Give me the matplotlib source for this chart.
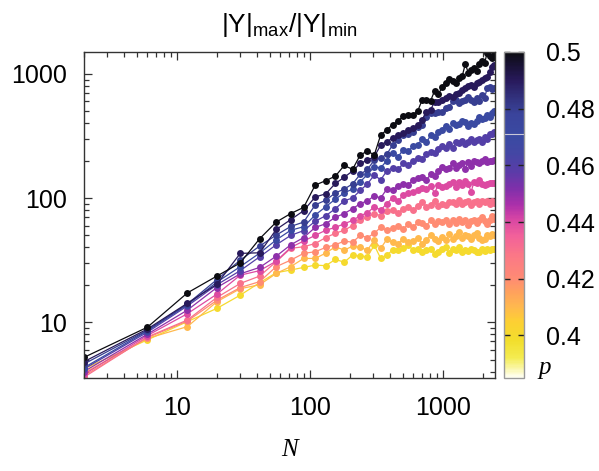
import matplotlib
matplotlib.use("Agg")
import matplotlib.pyplot as plt
import numpy as np
from matplotlib.colors import LinearSegmentedColormap, Normalize
from matplotlib.ticker import FixedLocator, NullFormatter, LogLocator

plt.rcParams['font.family'] = ['Liberation Sans', 'DejaVu Sans']
plt.rcParams['mathtext.fontset'] = 'custom'
plt.rcParams['mathtext.rm'] = 'Liberation Sans'

N = [2, 6, 12, 20, 30, 42, 56, 72, 90, 110, 132, 156, 182, 210, 240, 272, 306, 342,
     380, 420, 462, 506, 552, 600, 650, 702, 756, 812, 870, 930, 992, 1056, 1122,
     1190, 1260, 1332, 1406, 1482, 1560, 1640, 1722, 1806, 1892, 1980, 2070, 2162,
     2256, 2352, 2450]

p_values = [0.40, 0.41, 0.42, 0.43, 0.44, 0.45, 0.46, 0.47, 0.48, 0.49, 0.50]

y_p40 = [4.2, 7.2, 10.1, 12.9, 16.5, 20.8, 25, 26.3, 27.6, 28.8, 28.5, 32, 30.4, 34.7, 34, 33.7,
         41.7, 32.6, 34.7, 38, 38, 39.3, 41.7, 38, 38.5, 36.5, 38, 39, 35.5, 37, 38.6, 40, 36,
         39, 38, 40.5, 37, 38, 37.5, 39, 38, 36.5, 37, 38.5, 37.5, 39, 38, 38.5, 39]
y_p41 = [3.9, 7.4, 9.2, 14.6, 18.6, 20, 24.7, 28, 32.6, 32.6, 36, 40.5, 38, 41, 40, 38, 45.9,
         39.3, 46.4, 44, 43, 47, 44, 45, 48, 43, 46, 50, 47, 45, 48.8, 46, 51, 47, 49, 53, 48,
         50, 49, 47, 50, 52, 48, 46, 47, 50, 49, 51, 50]
y_p42 = [3.7, 7.5, 10.2, 15, 19, 21.2, 28, 31.6, 35.8, 36.9, 40, 42, 45, 44, 50, 48, 52, 58,
         55, 57, 60, 56, 62, 58, 64, 63, 60, 66, 62, 65, 64, 67, 62, 66, 63, 68, 64, 66, 61,
         65, 67, 63, 66, 70, 65, 62, 66, 72, 68]
y_p43 = [3.6, 7.6, 10.4, 15.8, 20.5, 23.5, 30.7, 39.3, 40.5, 43, 48, 52, 55, 60, 66, 70, 75,
         72, 78, 80, 76, 82, 85, 80, 86, 93, 85, 88, 95, 87, 90, 88, 92, 93, 90, 96, 89, 92,
         95, 88, 92, 94, 90, 95, 92, 94, 90, 95, 91]
y_p44 = [3.8, 7.8, 11.7, 16.8, 23.9, 26, 31, 40, 45, 50, 55, 58, 62, 66, 72, 76, 85, 80, 90,
         100, 95, 105, 110, 112, 115, 120, 118, 125, 110, 128, 123, 125, 130, 135, 122, 135,
         128, 138, 130, 112, 135, 133, 140, 130, 128, 130, 132, 131, 131]
y_p45 = [4.0, 8.0, 12.5, 19, 24.5, 27.6, 34, 42, 48, 58, 62, 70, 75, 82, 90, 95, 104, 100,
         118, 115, 125, 130, 128, 140, 145, 149, 140, 155, 150, 165, 179, 170, 175, 190, 175,
         185, 190, 172, 195, 180, 200, 195, 190, 200, 205, 195, 198, 200, 202]
y_p46 = [4.2, 8.3, 13.5, 20, 26, 33.6, 42, 50, 54.6, 65, 72, 82, 95, 100, 115, 130, 153, 140,
         165, 175, 170, 190, 185, 200, 209, 205, 225, 235, 230, 250, 262, 255, 270, 251, 280,
         275, 290, 270, 285, 300, 280, 295, 300, 285, 310, 300, 330, 326, 340]
y_p47 = [4.3, 8.5, 13.8, 21, 28, 36, 46, 55, 58.7, 73, 85, 98, 110, 118, 135, 155, 178, 175,
         200, 230, 215, 245, 240, 260, 267, 300, 280, 320, 310, 340, 353, 380, 360, 400, 390,
         395, 420, 410, 380, 400, 395, 420, 450, 430, 440, 470, 450, 482, 500]
y_p48 = [4.6, 8.6, 14.0, 22, 31.6, 41, 50.3, 59, 64, 88, 96, 110, 118, 130, 155, 170, 202,
         210, 225, 267, 294, 322, 330, 339, 376, 388, 453, 482, 482, 490, 497, 529, 545, 600,
         617, 580, 600, 617, 650, 617, 590, 640, 600, 680, 637, 766, 790, 760, 766]
y_p49 = [4.8, 8.8, 14.2, 20.2, 35.8, 36.2, 55.8, 67, 79, 102, 108, 131, 147, 165, 190, 202,
         215, 267, 285, 303, 322, 333, 353, 365, 388, 426, 497, 512, 598, 598, 617, 637, 660,
         650, 690, 698, 740, 766, 800, 815, 790, 850, 867, 900, 922, 951, 1044, 1146, 1183]
y_p50 = [5.2, 9.1, 17.2, 23.5, 30.0, 47, 64, 75, 84, 127, 138, 150, 183, 170, 222, 239, 222,
         322, 353, 390, 415, 460, 467, 470, 503, 617, 617, 606, 729, 686, 780, 851, 906, 880,
         851, 930, 964, 1197, 1025, 1080, 1111, 1050, 1200, 1273, 1219, 1469, 1380, 1337, 1423]

series = [y_p40, y_p41, y_p42, y_p43, y_p44, y_p45, y_p46, y_p47, y_p48, y_p49, y_p50]

cb_ticks = [0.40, 0.42, 0.44, 0.46, 0.48, 0.50]
cb_ticklabels = ['0.4', '0.42', '0.44', '0.46', '0.48', '0.5']
x_ticks = [10, 100, 1000]
y_ticks = [10, 100, 1000]

pmin, pmax = 0.385, 0.5
stops = [
    (0.385, '#fffff4'), (0.392, '#f4ec50'), (0.398, '#f2de2c'), (0.405, '#fdcf34'),
    (0.41, '#ffb84e'), (0.415, '#ffa25c'), (0.42, '#ff8b74'), (0.428, '#fb7886'),
    (0.435, '#f2619a'), (0.441, '#d846a4'), (0.446, '#ac30aa'), (0.452, '#7e30aa'),
    (0.458, '#5a3ca8'), (0.464, '#4446a4'), (0.47, '#3a4aa2'), (0.478, '#3a449c'),
    (0.484, '#32327e'), (0.49, '#281a5c'), (0.495, '#1a1238'), (0.5, '#0c0c12'),
]
cmap = LinearSegmentedColormap.from_list(
    'pal', [((v - pmin) / (pmax - pmin), c) for v, c in stops])
norm = Normalize(vmin=pmin, vmax=pmax)

fig = plt.figure(figsize=(5.99, 4.71), dpi=100)
ax = fig.add_axes([0.1402, 0.1975, 0.6862, 0.6921])
cax = fig.add_axes([0.8414, 0.1975, 0.0334, 0.6921])

for p, ys in zip(p_values, series):
    col = cmap(norm(p))
    ax.plot(N, ys, '-', color=col, lw=0.9, marker='o', ms=5.0, mec=col, mfc=col,
            mew=0)

ax.set_xscale('log')
ax.set_yscale('log')
ax.set_xlim(2, 2480)
ax.set_ylim(3.55, 1500)
ax.xaxis.set_major_locator(FixedLocator(x_ticks))
ax.yaxis.set_major_locator(FixedLocator(y_ticks))
ax.set_xticklabels([str(t) for t in x_ticks])
ax.set_yticklabels([str(t) for t in y_ticks])
ax.xaxis.set_minor_locator(LogLocator(base=10, subs=np.arange(2, 10)))
ax.yaxis.set_minor_locator(LogLocator(base=10, subs=np.arange(2, 10)))
ax.xaxis.set_minor_formatter(NullFormatter())
ax.yaxis.set_minor_formatter(NullFormatter())
ax.tick_params(which='both', direction='in', top=True, right=True, labelsize=18,
               color='#333333')
ax.tick_params(which='major', length=6, width=0.9)
ax.tick_params(which='minor', length=3.5, width=0.9)
ax.tick_params(axis='x', pad=13)
ax.tick_params(axis='y', pad=12)
for s in ax.spines.values():
    s.set_linewidth(1.0)
    s.set_color('#333333')

sm = plt.cm.ScalarMappable(cmap=cmap, norm=norm)
cb = fig.colorbar(sm, cax=cax)
cb.set_ticks(cb_ticks)
cb.set_ticklabels(cb_ticklabels)
cb.ax.tick_params(direction='in', length=4.5, width=1.0, left=True, right=True,
                  labelsize=18, pad=16, color='#222222')
cb.ax.minorticks_off()
cb.outline.set_edgecolor('#999999')
cb.outline.set_linewidth(1.0)
cb.ax.axhline(0.4711, color='#c8c8d8', lw=0.8)

fig.text(289.5 / 599, 1 - 32 / 471, r'|Y|$_\mathregular{max}$/|Y|$_\mathregular{min}$',
         ha='center', va='baseline', fontsize=19)
fig.text(289.5 / 599, 1 - 456 / 471, 'N', ha='center', va='baseline', fontsize=18,
         family='Liberation Serif', style='italic')
fig.text(545 / 599, 1 - 374 / 471, 'p', ha='center', va='baseline', fontsize=18,
         family='Liberation Serif', style='italic')

fig.savefig('out.png', dpi=100)
